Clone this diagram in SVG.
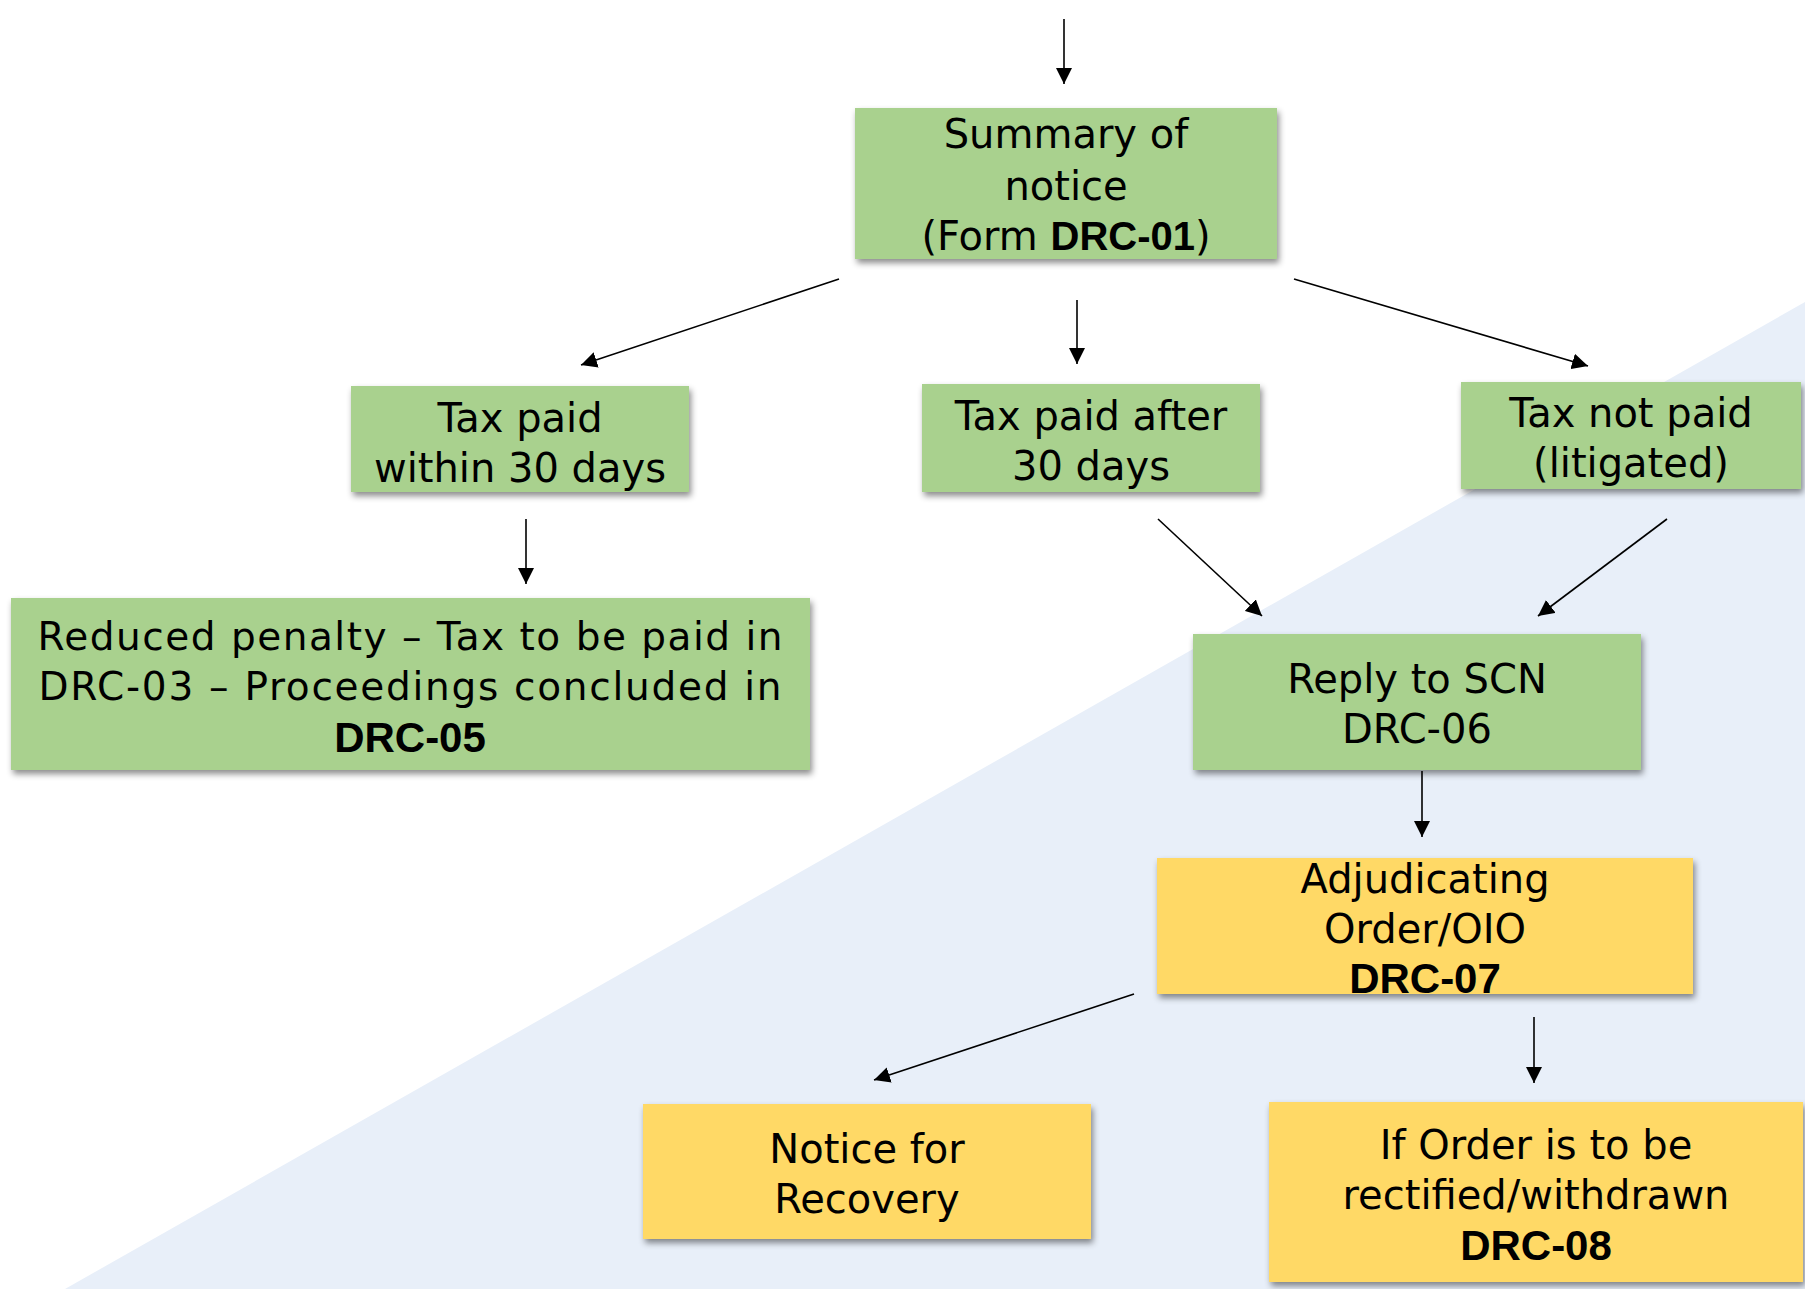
<svg xmlns="http://www.w3.org/2000/svg" width="1805" height="1289" viewBox="0 0 1805 1289">
  <defs>
    <filter id="shadow" x="-5%" y="-10%" width="112%" height="130%">
      <feDropShadow dx="2" dy="4" stdDeviation="3" flood-color="#000" flood-opacity="0.45"/>
    </filter>
    <marker id="arrow" markerUnits="userSpaceOnUse" markerWidth="17" markerHeight="16" refX="16" refY="8" orient="auto">
      <path d="M0,0 L16,8 L0,16 Z" fill="#000"/>
    </marker>
    <style>
      .green { fill: #A9D18E; filter: url(#shadow); }
      .yellow { fill: #FFD966; filter: url(#shadow); }
      .label { font-family: "DejaVu Sans", "Liberation Sans", sans-serif; font-size: 40px; fill: #000; text-anchor: middle; }
      .code { font-family: "Liberation Sans", Arial, sans-serif; font-weight: bold; font-size: 42px; }
      .link { stroke: #000; stroke-width: 1.6; fill: none; marker-end: url(#arrow); }
    </style>
  </defs>

  <!-- page background with pale diagonal band -->
  <rect x="0" y="0" width="1805" height="1289" fill="#FFFFFF"/>
  <polygon points="1805,302 1805,1289 65,1289" fill="#E8EFF9"/>

  <!-- connectors -->
  <g id="connectors">
    <line class="link" x1="1064" y1="19" x2="1064" y2="84"/>
    <line class="link" x1="839" y1="279" x2="581" y2="365"/>
    <line class="link" x1="1077" y1="300" x2="1077" y2="364"/>
    <line class="link" x1="1294" y1="279" x2="1588" y2="366"/>
    <line class="link" x1="526" y1="519" x2="526" y2="584"/>
    <line class="link" x1="1158" y1="519" x2="1262" y2="616"/>
    <line class="link" x1="1667" y1="519" x2="1538" y2="616"/>
    <line class="link" x1="1422" y1="771" x2="1422" y2="837"/>
    <line class="link" x1="1134" y1="994" x2="874" y2="1080"/>
    <line class="link" x1="1534" y1="1017" x2="1534" y2="1083"/>
  </g>

  <g id="summary-notice">
    <rect class="green" x="855" y="108" width="422" height="151"/>
    <text class="label" x="1066" y="148">Summary of</text>
    <text class="label" x="1066" y="200">notice</text>
    <text class="label" x="1066" y="250">(Form <tspan class="code" style="font-size:40px">DRC-01</tspan>)</text>
  </g>

  <g id="tax-paid-within">
    <rect class="green" x="351" y="386" width="338" height="106"/>
    <text class="label" x="520" y="432">Tax paid</text>
    <text class="label" x="520" y="482">within 30 days</text>
  </g>

  <g id="tax-paid-after">
    <rect class="green" x="922" y="384" width="338" height="108"/>
    <text class="label" x="1091" y="430">Tax paid after</text>
    <text class="label" x="1091" y="480">30 days</text>
  </g>

  <g id="tax-not-paid">
    <rect class="green" x="1461" y="382" width="340" height="107"/>
    <text class="label" x="1631" y="427">Tax not paid</text>
    <text class="label" x="1631" y="477">(litigated)</text>
  </g>

  <g id="reduced-penalty">
    <rect class="green" x="11" y="598" width="799" height="172"/>
    <text class="label" x="410" y="650" style="font-size:39px" textLength="745" lengthAdjust="spacing">Reduced penalty – Tax to be paid in</text>
    <text class="label" x="410" y="700" style="font-size:39px" textLength="743" lengthAdjust="spacing">DRC-03 – Proceedings concluded in</text>
    <text class="label code" x="410" y="752">DRC-05</text>
  </g>

  <g id="reply-scn">
    <rect class="green" x="1193" y="634" width="448" height="136"/>
    <text class="label" x="1417" y="693">Reply to SCN</text>
    <text class="label" x="1417" y="743">DRC-06</text>
  </g>

  <g id="adjudicating-order">
    <rect class="yellow" x="1157" y="858" width="536" height="136"/>
    <text class="label" x="1425" y="893">Adjudicating</text>
    <text class="label" x="1425" y="943">Order/OIO</text>
    <text class="label code" x="1425" y="993">DRC-07</text>
  </g>

  <g id="notice-recovery">
    <rect class="yellow" x="643" y="1104" width="448" height="135"/>
    <text class="label" x="867" y="1163">Notice for</text>
    <text class="label" x="867" y="1213">Recovery</text>
  </g>

  <g id="order-rectified">
    <rect class="yellow" x="1269" y="1102" width="534" height="180"/>
    <text class="label" x="1536" y="1159">If Order is to be</text>
    <text class="label" x="1536" y="1209">rectified/withdrawn</text>
    <text class="label code" x="1536" y="1260">DRC-08</text>
  </g>
</svg>
